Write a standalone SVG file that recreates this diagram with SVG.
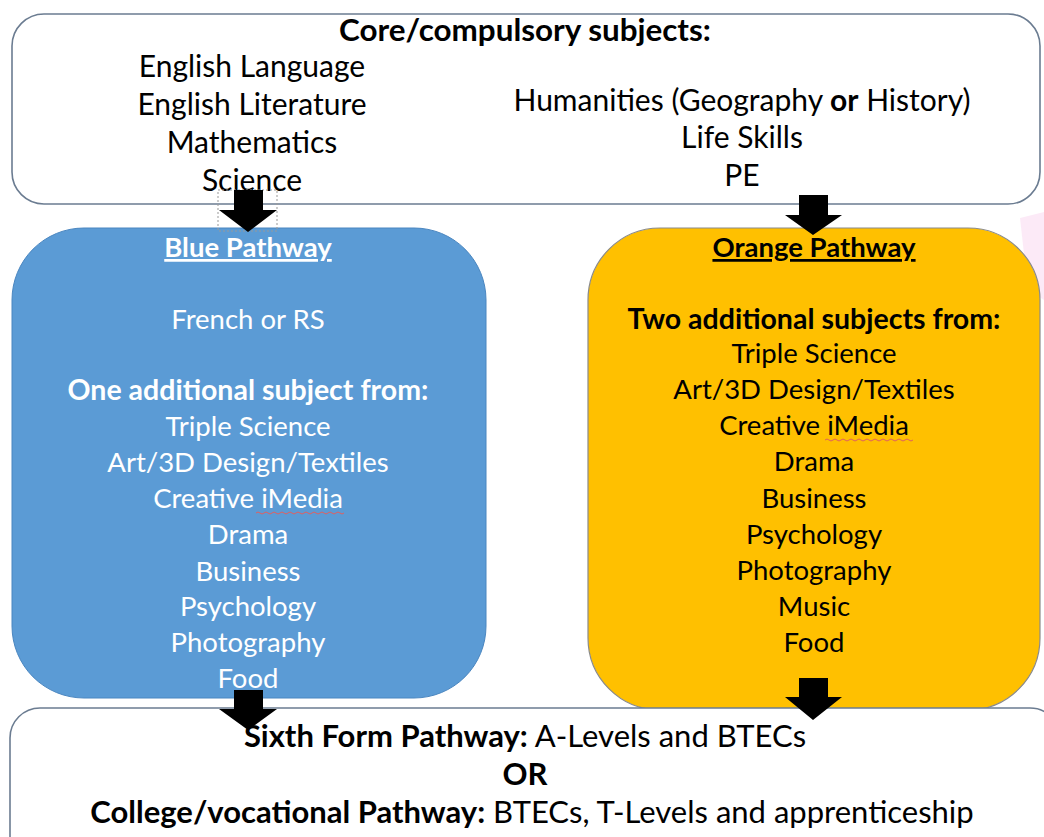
<svg xmlns="http://www.w3.org/2000/svg" width="1044" height="837" viewBox="0 0 1044 837">
<defs>
<style>
text{font-family:Lato,"Open Sans","Liberation Sans",sans-serif;font-size:27.5px;text-anchor:middle}
.s{font-size:28.5px}
.h{font-size:30px}
.t{font-size:31.4px}
.f{font-size:31px}
.b{font-weight:bold}
.w{fill:#ffffff}
.k{fill:#000000}
.box{fill:#ffffff;stroke:#6b7c91;stroke-width:1.6}
.arr{fill:#000000}
.sq{fill:none;stroke:#e06060;stroke-width:1}
</style>
</defs>
<rect width="1044" height="837" fill="#ffffff"/>
<g id="pink-deco" opacity="0.3">
<polygon points="1020,218 1044,212 1044,300 1028,290" fill="#f6b8e6"/>
</g>
<g id="core">
<rect class="box" x="12" y="14" width="1028" height="190" rx="32"/>
<text class="k b t" x="525" y="41">Core/compulsory subjects:</text>
<text class="k h" x="252" y="77">English Language</text>
<text class="k h" x="252" y="115">English Literature</text>
<text class="k h" x="252" y="153">Mathematics</text>
<text class="k h" x="252" y="191">Science</text>
<text class="k h" x="742" y="111">Humanities (Geography <tspan class="b">or</tspan> History)</text>
<text class="k h" x="742" y="148">Life Skills</text>
<text class="k h" x="742" y="186">PE</text>
</g>
<g id="blue">
<rect x="12" y="228" width="474" height="470" rx="72" fill="#5b9bd5" stroke="#4a86c0" stroke-width="1"/>
<text class="w b" x="248" y="257" text-decoration="underline">Blue Pathway</text>
<text class="w" x="248" y="329">French or RS</text>
<text class="w b s" x="248" y="400">One additional subject from:</text>
<text class="w" x="248" y="436">Triple Science</text>
<text class="w" x="248" y="472">Art/3D Design/Textiles</text>
<text class="w" x="248" y="508">Creative iMedia</text>
<path class="sq" d="M256,513 q2,-2 4,0 t4,0 t4,0 t4,0 t4,0 t4,0 t4,0 t4,0 t4,0 t4,0 t4,0 t4,0 t4,0 t4,0 t4,0 t4,0 t4,0 t4,0 t4,0 t4,0 t4,0 t4,0"/>
<text class="w" x="248" y="544">Drama</text>
<text class="w" x="248" y="581">Business</text>
<text class="w" x="248" y="616">Psychology</text>
<text class="w" x="248" y="652">Photography</text>
<text class="w" x="248" y="688">Food</text>
</g>
<g id="orange">
<rect x="588" y="228" width="452" height="482" rx="72" fill="#ffc000" stroke="#8a8a8a" stroke-width="1.2"/>
<text class="k b" x="814" y="257" text-decoration="underline">Orange Pathway</text>
<text class="k b s" x="814" y="329">Two additional subjects from:</text>
<text class="k" x="814" y="363">Triple Science</text>
<text class="k" x="814" y="399">Art/3D Design/Textiles</text>
<text class="k" x="814" y="435">Creative iMedia</text>
<path class="sq" d="M825,440 q2,-2 4,0 t4,0 t4,0 t4,0 t4,0 t4,0 t4,0 t4,0 t4,0 t4,0 t4,0 t4,0 t4,0 t4,0 t4,0 t4,0 t4,0 t4,0 t4,0 t4,0 t4,0 t4,0"/>
<text class="k" x="814" y="471">Drama</text>
<text class="k" x="814" y="508">Business</text>
<text class="k" x="814" y="544">Psychology</text>
<text class="k" x="814" y="580">Photography</text>
<text class="k" x="814" y="616">Music</text>
<text class="k" x="814" y="652">Food</text>
</g>
<g id="next">
<rect class="box" x="10" y="708" width="1050" height="160" rx="30"/>
<text class="k f" x="525" y="747"><tspan class="b">Sixth Form Pathway:</tspan> A-Levels and BTECs</text>
<text class="k b f" x="525" y="785">OR</text>
<text class="k f" x="532" y="823"><tspan class="b">College/vocational Pathway:</tspan> BTECs, T-Levels and apprenticeship</text>
</g>
<g id="connectors">
<rect x="218" y="190" width="59" height="41" fill="none" stroke="#999" stroke-width="1" stroke-dasharray="2,2"/>
<polygon class="arr" points="234,190 263,190 263,210 277,210 248,232 219,210 234,210"/>
<polygon class="arr" points="799,195 828,195 828,215 842,215 813,235 785,215 799,215"/>
<polygon class="arr" points="234,690 263,690 263,709 277,709 248,730 219,709 234,709"/>
<polygon class="arr" points="799,678 828,678 828,697 842,697 813,720 785,697 799,697"/>
</g>
</svg>
